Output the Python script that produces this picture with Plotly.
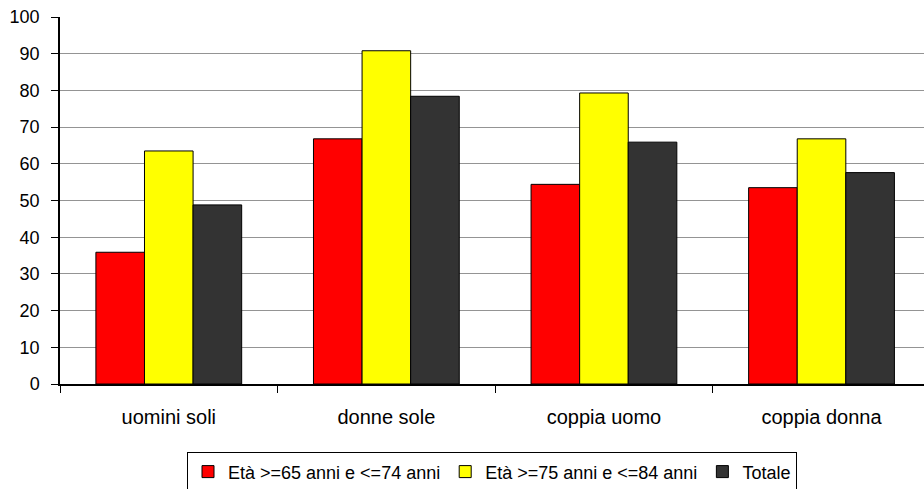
import plotly.graph_objects as go

categories = ["uomini soli", "donne sole", "coppia uomo", "coppia donna"]
series_names = ["Età >=65 anni e <=74 anni", "Età >=75 anni e <=84 anni", "Totale"]
eta_65_74 = [35.9, 66.8, 54.4, 53.5]
eta_75_84 = [63.5, 90.8, 79.3, 66.8]
totale = [48.8, 78.4, 65.9, 57.6]
colors = ["#FF0000", "#FFFF00", "#333333"]

fig = go.Figure()
for name, vals, col in zip(series_names, [eta_65_74, eta_75_84, totale], colors):
    fig.add_trace(go.Bar(
        x=categories, y=vals, name=name,
        marker=dict(color=col, line=dict(color="black", width=1)),
    ))

font = "Liberation Sans, Arial, sans-serif"
fig.update_layout(
    width=924, height=489,
    margin=dict(l=60, r=0, t=17, b=104.5, autoexpand=False),
    paper_bgcolor="white", plot_bgcolor="white",
    barmode="group", bargap=0.33, bargroupgap=0,
    font=dict(family=font, size=18, color="black"),
    showlegend=True,
    legend=dict(
        orientation="h", x=0.5, xanchor="center", y=-0.1864, yanchor="top",
        bordercolor="black", borderwidth=1, bgcolor="white",
        font=dict(family=font, size=18, color="black"),
        itemwidth=30, tracegroupgap=0,
    ),
)
fig.update_xaxes(
    type="category", range=[-0.5, 3.471],
    showline=True, linecolor="black", linewidth=1.5,
    ticks="outside", tickson="boundaries", ticklen=7, tickcolor="black", tickwidth=1,
    ticklabelstandoff=14,
    showgrid=False, zeroline=False,
    tickfont=dict(family=font, size=20, color="black"),
)
fig.update_yaxes(
    range=[0, 100], dtick=10, tick0=0,
    showline=True, linecolor="black", linewidth=1.5,
    ticks="outside", ticklen=7, tickcolor="black", tickwidth=1,
    ticklabelstandoff=8,
    showgrid=True, gridcolor="#949494", gridwidth=1,
    zeroline=False,
    tickfont=dict(family=font, size=18, color="black"),
)

fig.write_html(
    "out.html",
    config={"displayModeBar": False},
    post_script="document.body.style.margin='0';document.body.style.padding='0';",
)
